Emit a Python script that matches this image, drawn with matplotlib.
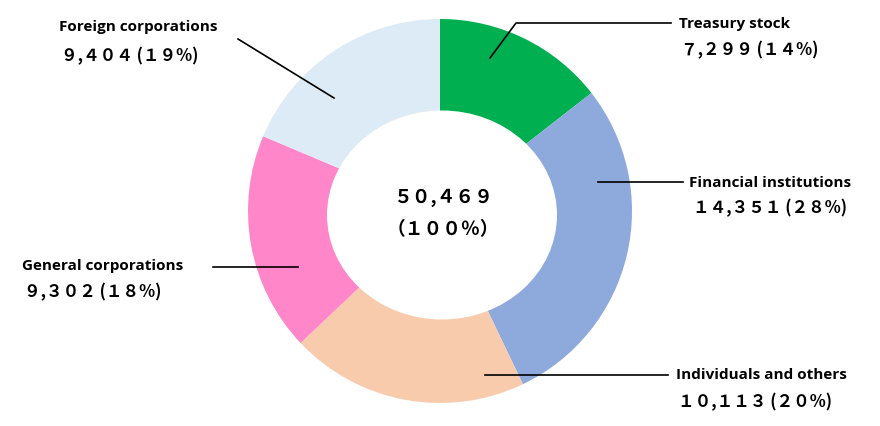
import matplotlib
matplotlib.use("Agg")
import matplotlib.pyplot as plt
from matplotlib.patches import Ellipse

# shareholder categories, clockwise from 12 o'clock
categories = ["Treasury stock", "Financial institutions", "Individuals and others",
              "General corporations", "Foreign corporations"]
shares = [7299, 14351, 10113, 9302, 9404]
value_labels = ["７,２９９ (１４%)", "１４,３５１ (２８%)", "１０,１１３ (２０%)",
                "９,３０２ (１８%)", "９,４０４ (１９%)"]
total_label = "５０,４６９"
total_pct = "（１００％）"
colors = ["#00B050", "#8EA9DB", "#F8CBAD", "#FF86C8", "#DDEBF7"]

W, H = 880, 427
fig = plt.figure(figsize=(W / 100, H / 100), dpi=100)
ax = fig.add_axes([0, 0, 1, 1])


def Y(y):
    # picture rows count from the top
    return H - y


cx, cy, r = 440, Y(212), 192
ax.pie(shares, colors=colors, startangle=90, counterclock=False,
       center=(cx, cy), radius=r, wedgeprops=dict(linewidth=0), frame=True)
# the hole is a touch wider than tall in the original
ax.add_patch(Ellipse((442, Y(216)), 230, 209, facecolor="white", lw=0, zorder=3))
ax.set_xlim(0, W)
ax.set_ylim(0, H)
ax.set_aspect("equal")
ax.axis("off")

cjk = ["Noto Sans CJK JP", "DejaVu Sans"]
lab_kw = dict(fontsize=11, fontweight="bold", family="Open Sans", va="center")
val_kw = dict(fontsize=12, fontweight="bold", family=cjk, va="center")

# leader lines (picture coords)
leaders = [
    [(490, 59), (516, 24), (671, 24)],
    [(598, 183), (683, 183)],
    [(485, 376), (668, 376)],
    [(298, 268), (213, 268)],
    [(334, 99), (238, 40)],
]
for pts in leaders:
    ax.plot([p[0] for p in pts], [Y(p[1]) for p in pts], color="black", lw=1.2, zorder=4)

# label anchors: (x_name, y_name, y_value, x_value)
anchors = [
    (679, 24, 50, 681),
    (689, 183, 208, 693),
    (676, 375, 402, 678),
    (22, 266, 292, 24),
    (59, 27, 56, 61),
]
for name, val, (x, yn, yv, xv) in zip(categories, value_labels, anchors):
    ax.text(x, Y(yn), name, ha="left", **lab_kw)
    ax.text(xv, Y(yv), val, ha="left", **val_kw)

ax.text(443, Y(198), total_label, ha="center", fontsize=13.5, fontweight="bold",
        family=cjk, va="center", zorder=5)
ax.text(443, Y(230), total_pct, ha="center", fontsize=13.5, fontweight="bold",
        family=cjk, va="center", zorder=5)

fig.savefig("out.png", dpi=100, facecolor="white")
